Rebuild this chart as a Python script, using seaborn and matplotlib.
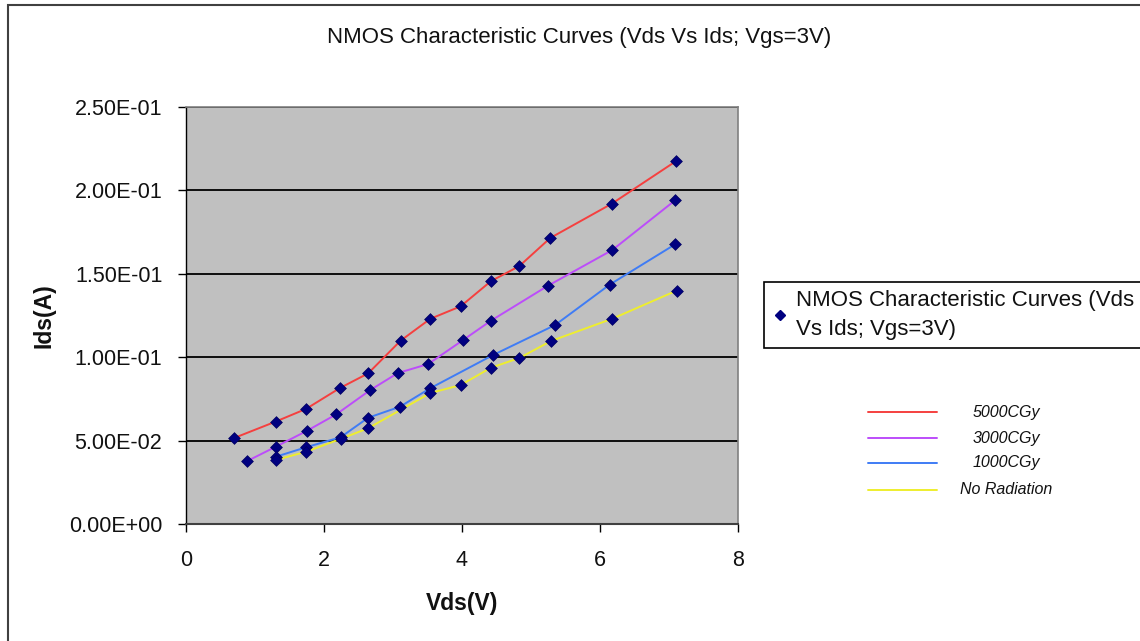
import numpy as np
import pandas as pd
import seaborn as sns
import matplotlib.pyplot as plt
from matplotlib.lines import Line2D
from matplotlib.patches import Rectangle

# values
vds_5000 = [0.70, 1.30, 1.74, 2.23, 2.64, 3.11, 3.54, 3.98, 4.42, 4.83, 5.28, 6.17, 7.10]
ids_5000 = [0.0516, 0.0614, 0.0690, 0.0815, 0.0903, 0.1099, 0.1230, 0.1305, 0.1456, 0.1546, 0.1715, 0.1920, 0.2175]

vds_3000 = [0.88, 1.30, 1.75, 2.18, 2.67, 3.07, 3.51, 4.02, 4.42, 5.24, 6.18, 7.09]
ids_3000 = [0.0376, 0.0463, 0.0558, 0.0658, 0.0803, 0.0905, 0.0959, 0.1104, 0.1219, 0.1427, 0.1643, 0.1941]

vds_1000 = [1.30, 1.74, 2.24, 2.64, 3.10, 3.54, 4.45, 5.35, 6.14, 7.09]
ids_1000 = [0.0403, 0.0460, 0.0520, 0.0637, 0.0703, 0.0814, 0.1013, 0.1193, 0.1435, 0.1677]

vds_none = [1.30, 1.74, 2.24, 2.64, 3.54, 3.98, 4.42, 4.83, 5.29, 6.18, 7.11]
ids_none = [0.0384, 0.0433, 0.0510, 0.0574, 0.0785, 0.0833, 0.0937, 0.0995, 0.1097, 0.1231, 0.1399]

doses = ["5000CGy", "3000CGy", "1000CGy", "No Radiation"]
colors = ["#F5403F", "#BC4DFA", "#3F7CF5", "#EEEE2E"]

x_ticks = [0, 2, 4, 6, 8]
y_ticks = [0.0, 0.05, 0.10, 0.15, 0.20, 0.25]
y_ticklabels = ["0.00E+00", "5.00E-02", "1.00E-01", "1.50E-01", "2.00E-01", "2.50E-01"]

title = "NMOS Characteristic Curves (Vds Vs Ids; Vgs=3V)"
marker_label = "NMOS Characteristic Curves (Vds\nVs Ids; Vgs=3V)"

frames = []
for name, xs, ys in zip(doses, [vds_5000, vds_3000, vds_1000, vds_none],
                        [ids_5000, ids_3000, ids_1000, ids_none]):
    frames.append(pd.DataFrame({"Vds": xs, "Ids": ys, "Dose": name}))
df = pd.concat(frames, ignore_index=True)

sns.set_theme(style="white")
plt.rcParams["font.family"] = ["Liberation Sans", "DejaVu Sans"]

fig = plt.figure(figsize=(11.4, 6.41), dpi=100)
ax = fig.add_axes([186 / 1140, 1 - 524 / 641, 552 / 1140, 417 / 641])
ax.set_facecolor("#C0C0C0")

sns.lineplot(data=df, x="Vds", y="Ids", hue="Dose", palette=dict(zip(doses, colors)),
             sort=False, estimator=None, legend=False, lw=1.4, ax=ax)
sns.scatterplot(data=df, x="Vds", y="Ids", marker="D", color="#000080", s=36,
                edgecolor="#000060", linewidth=0.5, legend=False, zorder=3, ax=ax)

ax.set_xlim(0, 8)
ax.set_ylim(0, 0.25)
ax.set_xticks(x_ticks)
ax.set_yticks(y_ticks)
ax.set_yticklabels(y_ticklabels)
ax.yaxis.grid(True, color="black", lw=1.3)
ax.xaxis.grid(False)
ax.set_axisbelow(True)

ax.tick_params(axis="both", direction="out", length=6, width=1, color="black",
               labelsize=15.5, labelcolor="#111111")
ax.tick_params(axis="y", pad=11)
ax.tick_params(axis="x", pad=13)
ax.tick_params(bottom=True, left=True)

for side in ["top", "right"]:
    ax.spines[side].set_color("#808080")
    ax.spines[side].set_linewidth(1.2)
ax.spines["left"].set_color("black")
ax.spines["left"].set_linewidth(1.0)
ax.spines["bottom"].set_color("#404040")
ax.spines["bottom"].set_linewidth(1.5)

ax.set_xlabel("Vds(V)", fontsize=16.5, fontweight="bold", color="#111111")
ax.set_ylabel("Ids(A)", fontsize=16.5, fontweight="bold", color="#111111")
ax.xaxis.set_label_coords(0.5, -0.163)
ax.yaxis.set_label_coords(-0.237, 0.5)

fig.text(579 / 1140, 1 - 38 / 641, title, ha="center", va="center",
         fontsize=16, color="#111111")

# outer chart frame
fig.add_artist(Rectangle((8 / 1140, -0.05), 1.2, 1 - 5 / 641 + 0.05,
                         transform=fig.transFigure, fill=False,
                         ec="#404040", lw=1.5))

# boxed marker legend
h = Line2D([], [], ls="none", marker="D", color="#000080", markersize=5)
leg = fig.legend(handles=[h], labels=[marker_label], loc="upper left",
                 bbox_to_anchor=(764 / 1140, 1 - 282 / 641), frameon=True,
                 fancybox=False, edgecolor="black", framealpha=1,
                 prop={"size": 16}, handlelength=0.7, handletextpad=0.4,
                 borderpad=0.35, borderaxespad=0)
leg.get_frame().set_linewidth(1.2)
for t in leg.get_texts():
    t.set_linespacing(1.5)
    t.set_color("#111111")

# line key drawn beside the plot
key_y = [412, 438, 463, 490]
for name, c, yy in zip(doses, colors, key_y):
    fy = 1 - yy / 641
    fig.add_artist(Line2D([868 / 1140, 937 / 1140], [fy, fy], color=c, lw=1.4,
                          transform=fig.transFigure))
    fig.text(1006 / 1140, fy, name, ha="center", va="center", fontsize=11.5,
             style="italic", color="#111111")

fig.savefig("out.png", dpi=100)
